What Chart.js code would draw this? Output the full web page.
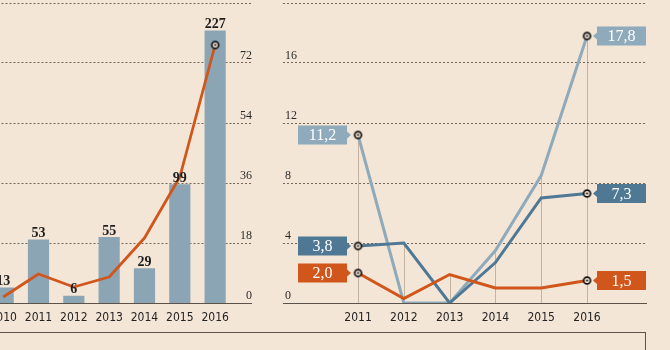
<!DOCTYPE html>
<html><head><meta charset="utf-8">
<script src="https://cdn.jsdelivr.net/npm/chart.js@4/dist/chart.umd.min.js"></script>
<style>
html,body{margin:0;padding:0;background:#f4e6d6;width:670px;height:350px;overflow:hidden;position:relative}
#c1{position:absolute;left:-60px;top:0}
#c2{position:absolute;left:265px;top:0}
#frame{position:absolute;left:0;top:332px;width:645px;height:30px;border-top:1px solid #5b524a;border-right:1px solid #5b524a}
</style></head><body>
<canvas id="c1" width="330" height="350"></canvas>
<canvas id="c2" width="405" height="350"></canvas>
<div id="frame"></div>
<script>
// ---- data ----
const leftYears = ['2010','2011','2012','2013','2014','2015','2016'];
const barValues = [13, 53, 6, 55, 29, 99, 227];
const leftLineValues = [1.8, 8.7, 4.8, 7.8, 19.5, 37.8, 77.4];
const leftLineTicks = [0, 18, 36, 54, 72, 90];

const rightYears = [2011, 2012, 2013, 2014, 2015, 2016];
const seriesLight  = [11.2, 0, 0, 3.5, 8.5, 17.8];
const seriesDark   = [3.8, 4.0, 0, 2.7, 7.0, 7.3];
const seriesOrange = [2.0, 0.3, 1.9, 1.0, 1.0, 1.5];
const rightTicks = [0, 4, 8, 12, 16, 20];

// ---- styles ----
const BG = '#f4e6d6';
const C_BAR = '#8ba5b5';
const C_ORANGE = '#d0561b';
const C_DARK = '#4f7895';
const C_LIGHT = '#8eaabb';
const GRID = 'rgba(70,60,50,0.75)';
const AXIS = '#5b524a';
const SERIF = "'Liberation Serif', 'DejaVu Serif', serif";
const SANS = "'Liberation Sans Narrow', 'DejaVu Sans Condensed', 'Roboto', sans-serif";

Chart.defaults.font.family = SERIF;
Chart.defaults.color = '#333';

// marker image
const mk = document.createElement('canvas');
mk.width = 11; mk.height = 11;
(function(){
  const g = mk.getContext('2d');
  g.beginPath(); g.arc(5.5,5.5,3.4,0,Math.PI*2);
  g.fillStyle = BG; g.fill();
  g.lineWidth = 1.7; g.strokeStyle = '#111'; g.stroke();
  g.beginPath(); g.arc(5.5,5.5,1.1,0,Math.PI*2); g.fillStyle='#111'; g.fill();
})();

function endStyle(idxs){
  return {
    pointRadius: ctx => idxs.includes(ctx.dataIndex) ? 4 : 0,
    pointHoverRadius: 0,
    pointStyle: ctx => idxs.includes(ctx.dataIndex) ? mk : 'circle'
  };
}

const gridLineColor = ctx => (ctx.tick && ctx.tick.value === 0) ? AXIS : GRID;
const gridDash = ctx => (ctx.tick && ctx.tick.value === 0) ? [] : [2, 2];

// ---------- LEFT CHART ----------
const barLabels = {
  id: 'barLabels',
  afterDatasetsDraw(chart){
    const ctx = chart.ctx;
    chart.data.datasets.forEach((ds, i) => {
      if (ds.type !== 'bar') return;
      const meta = chart.getDatasetMeta(i);
      ctx.save();
      ctx.font = 'bold 14px ' + SERIF;
      ctx.fillStyle = '#1e1e1e';
      ctx.textAlign = 'center';
      ctx.textBaseline = 'bottom';
      meta.data.forEach((el, j) => ctx.fillText(String(ds.data[j]), el.x, el.y + 1));
      ctx.restore();
    });
  }
};

new Chart(document.getElementById('c1'), {
  data: {
    labels: leftYears,
    datasets: [
      Object.assign({
        type: 'line', data: leftLineValues, yAxisID: 'yLine',
        borderColor: C_ORANGE, borderWidth: 2.8, tension: 0, borderJoinStyle: 'round'
      }, endStyle([leftLineValues.length - 1])),
      {
        type: 'bar', data: barValues, yAxisID: 'yBars',
        backgroundColor: C_BAR, barPercentage: 0.6, categoryPercentage: 1
      }
    ]
  },
  options: {
    responsive: false, devicePixelRatio: 1, animation: false,
    layout: { autoPadding: false, padding: { left: 45.5, right: 18, top: 3, bottom: 0 } },
    plugins: { legend: { display: false }, tooltip: { enabled: false } },
    scales: {
      x: {
        type: 'category', offset: true,
        grid: { display: false, drawTicks: false }, border: { display: false },
        ticks: { font: { family: SANS, size: 12 }, color: '#222', padding: 8, maxRotation: 0, autoSkip: false },
        afterFit: s => { s.height = 47; s.paddingLeft = 0; s.paddingRight = 0; }
      },
      yBars: { display: false, min: 0, max: 250 },
      yLine: {
        position: 'right', min: 0, max: 90,
        afterBuildTicks: s => { s.ticks = leftLineTicks.map(v => ({ value: v })); },
        afterFit: s => { s.width = 19.2; s.paddingTop = 0; s.paddingBottom = 0; },
        grid: { color: gridLineColor, tickColor: gridLineColor, lineWidth: 1, drawTicks: true, tickLength: 19.2, tickBorderDash: gridDash },
        border: { display: false, dash: gridDash },
        ticks: { crossAlign: 'far', padding: 0, labelOffset: -7, font: { size: 12 }, color: '#2a2a2a',
          callback: v => v === 90 ? '' : String(v) }
      }
    }
  },
  plugins: [barLabels]
});

// ---------- RIGHT CHART ----------
const rightSeries = [
  { data: seriesOrange, color: C_ORANGE },
  { data: seriesDark, color: C_DARK },
  { data: seriesLight, color: C_LIGHT }
];

const dropLines = {
  id: 'dropLines',
  beforeDatasetsDraw(chart){
    const ctx = chart.ctx, xs = chart.scales.x, ys = chart.scales.y;
    ctx.save();
    ctx.strokeStyle = 'rgba(150,128,108,0.5)';
    ctx.lineWidth = 1;
    rightYears.forEach((yr, i) => {
      const m = Math.max(seriesLight[i], seriesDark[i], seriesOrange[i]);
      const x = Math.round(xs.getPixelForValue(yr)) + 0.5;
      ctx.beginPath();
      ctx.moveTo(x, ys.getPixelForValue(m));
      ctx.lineTo(x, ys.getPixelForValue(0));
      ctx.stroke();
    });
    ctx.restore();
  }
};

const fmt = v => v.toFixed(1).replace('.', ',');

const valueBoxes = {
  id: 'valueBoxes',
  afterDatasetsDraw(chart){
    const ctx = chart.ctx;
    chart.data.datasets.forEach((ds, i) => {
      const meta = chart.getDatasetMeta(i);
      const pts = meta.data;
      const ends = [[0, 'left'], [pts.length - 1, 'right']];
      ends.forEach(([j, side]) => {
        const p = pts[j];
        const w = 49, h = 19;
        let x0, tip, base;
        if (side === 'left') { x0 = p.x - 11 - w; base = p.x - 11; tip = p.x - 7; }
        else { x0 = p.x + 10; base = p.x + 10; tip = p.x + 6; }
        const y0 = p.y - h / 2;
        ctx.save();
        ctx.fillStyle = ds.borderColor;
        ctx.fillRect(x0, y0, w, h);
        ctx.beginPath();
        ctx.moveTo(base, p.y - 3.5); ctx.lineTo(tip, p.y); ctx.lineTo(base, p.y + 3.5); ctx.closePath();
        ctx.fill();
        ctx.fillStyle = '#fff';
        ctx.font = '16px ' + SERIF;
        ctx.textAlign = 'center'; ctx.textBaseline = 'middle';
        ctx.fillText(fmt(ds.data[j].y), x0 + w / 2, p.y + 1);
        ctx.restore();
      });
    });
  }
};

new Chart(document.getElementById('c2'), {
  type: 'line',
  data: {
    datasets: rightSeries.map(s => Object.assign({
      data: s.data.map((v, i) => ({ x: rightYears[i], y: v })),
      borderColor: s.color, borderWidth: 3, tension: 0, borderJoinStyle: 'miter'
    }, endStyle([0, s.data.length - 1])))
  },
  options: {
    responsive: false, devicePixelRatio: 1, animation: false,
    layout: { autoPadding: false, padding: { left: 18, right: 23, top: 3, bottom: 0 } },
    plugins: { legend: { display: false }, tooltip: { enabled: false } },
    scales: {
      x: {
        type: 'linear', min: 2009.362, max: 2017.31,
        afterBuildTicks: s => { s.ticks = rightYears.map(v => ({ value: v })); },
        grid: { display: false, drawTicks: false }, border: { display: false },
        ticks: { font: { family: SANS, size: 12 }, color: '#222', padding: 8, maxRotation: 0, autoSkip: false,
          callback: v => String(v) },
        afterFit: s => { s.height = 47; s.paddingLeft = 0; s.paddingRight = 0; }
      },
      y: {
        position: 'left', min: 0, max: 20,
        afterBuildTicks: s => { s.ticks = rightTicks.map(v => ({ value: v })); },
        afterFit: s => { s.width = 0; s.paddingTop = 0; s.paddingBottom = 0; },
        grid: { color: gridLineColor, lineWidth: 1, drawTicks: false },
        border: { display: false, dash: gridDash },
        ticks: { mirror: true, padding: 2, labelOffset: -7, font: { size: 12 }, color: '#2a2a2a',
          callback: v => v === 20 ? '' : String(v) }
      }
    }
  },
  plugins: [dropLines, valueBoxes]
});
</script>
</body></html>
